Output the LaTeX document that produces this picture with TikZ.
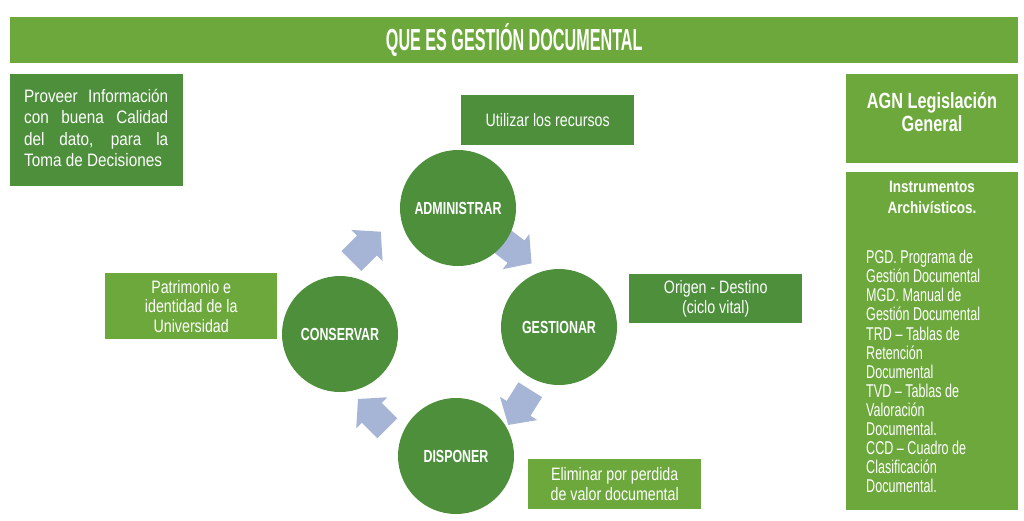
\documentclass[tikz,border=0pt]{standalone}
\usepackage{fontspec}
\setmainfont{Liberation Sans}
\newfontfamily\narf[FakeStretch=0.79]{Liberation Sans}
\newfontfamily\headf[FakeStretch=0.82]{Liberation Sans}
\newfontfamily\provf[FakeStretch=0.85]{Liberation Sans}
\newfontfamily\listf[FakeStretch=0.68]{Liberation Sans}
\newfontfamily\agnf[FakeStretch=0.74]{Liberation Sans}
\newfontfamily\titf[FakeStretch=0.53]{Liberation Sans}
\newfontfamily\cirf[FakeStretch=0.71]{Liberation Sans}
\definecolor{dgreen}{RGB}{77,143,59}
\definecolor{lgreen}{RGB}{108,168,59}
\definecolor{arrowblue}{RGB}{166,181,214}
\begin{document}
\begin{tikzpicture}[x=1pt,y=-1pt,
  box/.style={fill=#1, draw=none, inner sep=0pt, text=white, anchor=north west, align=center,
    font=\narf\fontsize{18}{19.5}\selectfont},
  circ/.style={circle, fill=dgreen, minimum size=116pt, inner sep=0pt, text=white,
    font=\cirf\bfseries\fontsize{17.5}{19}\selectfont},
  txt/.style={text=white, inner sep=0pt},
  blockarr/.pic={\fill[arrowblue] (19.5,0)--(0,22)--(0,14)--(-22,14)--(-22,-14)--(0,-14)--(0,-22)--cycle;}
]
\useasboundingbox (0,0) rectangle (1024,520);
\fill[white] (0,0) rectangle (1024,520);

% title
\node[box=lgreen, minimum width=1008pt, minimum height=46pt,
  font=\titf\bfseries\fontsize{30.5}{32}\selectfont] (title) at (10,17) {QUE ES GESTIÓN DOCUMENTAL};

% left top box
\node[box=dgreen, minimum width=173pt, minimum height=112pt] (prov) at (10,74) {};
\node[txt, anchor=north west, align=left, font=\provf\fontsize{18}{21.5}\selectfont] (provtxt) at (24,89)
  {\makebox[144pt][s]{Proveer Información}\\
   \makebox[144pt][s]{con buena Calidad}\\
   \makebox[144pt][s]{del dato, para la}\\
   Toma de Decisiones};

% small boxes
\node[box=dgreen, minimum width=173pt, minimum height=50pt] (util) at (461,95) {Utilizar los recursos};
\node[box=dgreen, minimum width=173pt, minimum height=49pt] (orig) at (629,274) {Origen - Destino\\(ciclo vital)};
\node[box=lgreen, minimum width=172pt, minimum height=66pt] (patr) at (105,273) {Patrimonio e\\identidad de la\\Universidad};
\node[box=lgreen, minimum width=173pt, minimum height=50pt] (elim) at (528,459) {Eliminar por perdida\\de valor documental};

% right column
\node[box=lgreen, minimum width=172pt, minimum height=89pt] (agn) at (846,74) {};
\node[txt, anchor=north, align=center, font=\agnf\bfseries\fontsize{22}{23.5}\selectfont] (agntxt) at (932,92)
  {AGN Legislación\\General};
\node[box=lgreen, minimum width=172pt, minimum height=338pt] (instr) at (846,172) {};
\node[txt, anchor=north, align=center, font=\headf\bfseries\fontsize{16.5}{21}\selectfont] (insthead) at (932,180.5)
  {Instrumentos\\Archivísticos.};
\node[txt, anchor=north west, align=left, font=\listf\fontsize{18.5}{19.1}\selectfont] (instlist) at (866,250)
  {PGD. Programa de\\
   Gestión Documental\\
   MGD. Manual de\\
   Gestión Documental\\
   TRD – Tablas de\\
   Retención\\
   Documental\\
   TVD – Tablas de\\
   Valoración\\
   Documental.\\
   CCD – Cuadro de\\
   Clasificación\\
   Documental.};

% cycle arrows (behind circles)
\pic[rotate=45] at (367,245.5) {blockarr};
\pic[rotate=-37] at (516,251.6) {blockarr};
\pic[rotate=238] at (518.6,408.4) {blockarr};
\pic[rotate=135] at (371.8,412.8) {blockarr};

% cycle
\node[circ] (adm) at (458,208) {ADMINISTRAR};
\node[circ] (ges) at (559,327) {GESTIONAR};
\node[circ] (dis) at (456,456) {DISPONER};
\node[circ] (con) at (340,334) {CONSERVAR};
\end{tikzpicture}
\end{document}
